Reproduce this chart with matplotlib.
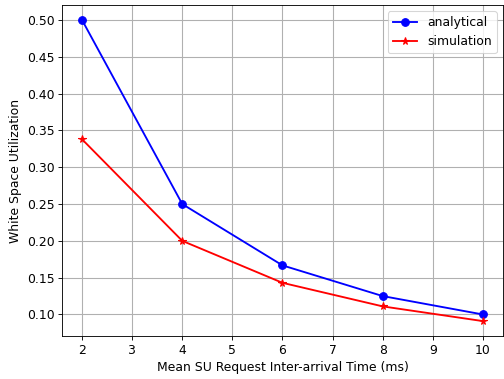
import matplotlib
matplotlib.use("Agg")
import matplotlib.pyplot as plt

# data
inter_arrival = [2, 4, 6, 8, 10]
analytical = [0.5, 0.25, 0.1667, 0.125, 0.1]
simulation = [0.338, 0.200, 0.143, 0.111, 0.091]

DPI = 78.75
plt.rcParams["font.size"] = 11.3
plt.rcParams["lines.linewidth"] = 1.7
plt.rcParams["lines.markersize"] = 7
plt.rcParams["grid.linewidth"] = 1.0

fig, ax = plt.subplots(figsize=(504 / DPI, 379 / DPI), dpi=DPI)

ax.plot(inter_arrival, analytical, "b-o", label="analytical")
ax.plot(inter_arrival, simulation, "r-*", label="simulation")

ax.set_xlabel("Mean SU Request Inter-arrival Time (ms)")
ax.set_ylabel("White Space Utilization")
ax.set_xticks(range(2, 11))
ax.grid(True)
ax.legend(loc="upper right")

fig.subplots_adjust(left=0.123, right=0.998, top=0.987, bottom=0.113)
fig.savefig("out.png", dpi=DPI)
